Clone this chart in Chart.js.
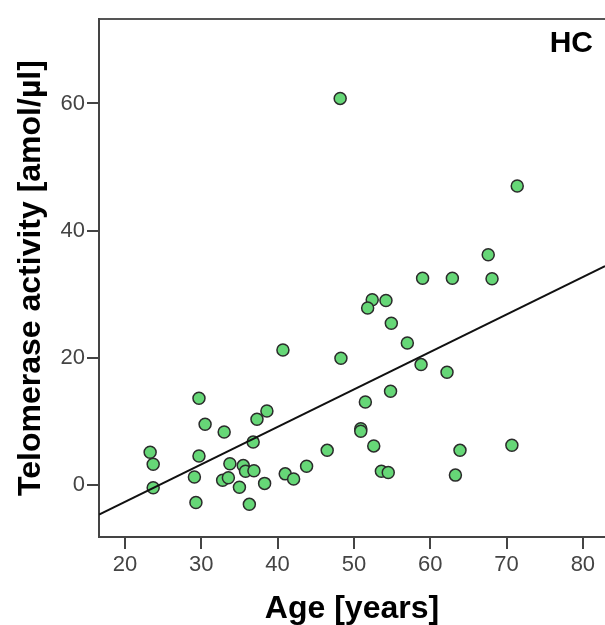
<!DOCTYPE html>
<html>
<head>
<meta charset="utf-8">
<title>Telomerase activity vs age (HC)</title>
<script src="https://cdn.jsdelivr.net/npm/chart.js@4.4.1/dist/chart.umd.min.js"></script>
<style>
  html, body { margin: 0; padding: 0; background: #fff; overflow: hidden; }
  canvas { display: block; }
</style>
</head>
<body>
<canvas id="scatterHC" width="605" height="625"></canvas>
<script>
// healthy controls: age (years) and telomerase activity (amol/µl)
const ages = [
  48.2, 71.4, 67.6, 59.0, 62.9, 68.1, 52.4, 54.2, 51.8, 54.9,
  57.0, 40.7, 48.3, 58.8, 62.2, 54.8, 51.5, 29.7, 30.5, 38.6,
  37.3, 33.0, 36.8, 50.9, 50.9, 52.6, 46.5, 63.9, 70.7, 23.3,
  23.7, 23.7, 29.7, 29.1, 29.3, 33.75, 32.8, 33.55, 35.5, 35.8,
  36.9, 35.0, 36.3, 38.3, 41.0, 42.1, 43.8, 53.6, 54.5, 63.3
];
const activity = [
  60.8, 47.0, 36.2, 32.5, 32.5, 32.4, 29.1, 29.0, 27.8, 25.4,
  22.3, 21.2, 19.9, 18.9, 17.7, 14.7, 13.0, 13.6, 9.5, 11.6,
  10.3, 8.3, 6.7, 8.8, 8.4, 6.1, 5.4, 5.4, 6.2, 5.1,
  3.2, -0.5, 4.5, 1.2, -2.8, 3.3, 0.7, 1.1, 3.0, 2.1,
  2.2, -0.4, -3.1, 0.2, 1.7, 0.9, 2.9, 2.1, 1.9, 1.5
];

// linear fit: intercept, slope
const fitLine = [-14.5, 0.59];

const xRange = [16.6, 82.9];
const yRange = [-8.24, 73.3];
const xTicks = [20, 30, 40, 50, 60, 70, 80];
const yTicks = [0, 20, 40, 60];

const axisColor = "#444";
const tickFont = { family: "'Liberation Sans', Arial, sans-serif", size: 22 };
const titleFont = { family: "'Liberation Sans', Arial, sans-serif", size: 32, weight: "bold", lineHeight: 1 };

const points = ages.map((a, i) => ({ x: a, y: activity[i] }));
const fitPoints = xRange.map(x => ({ x: x, y: fitLine[0] + fitLine[1] * x }));

const groupLabel = {
  id: "groupLabel",
  afterDraw(chart) {
    const { ctx, chartArea } = chart;
    ctx.save();
    ctx.font = "bold 30px 'Liberation Sans', Arial, sans-serif";
    ctx.fillStyle = "#000";
    ctx.textAlign = "right";
    ctx.textBaseline = "alphabetic";
    ctx.fillText("HC", chartArea.right - 12, chartArea.top + 33);
    ctx.restore();
  }
};

function fixedTicks(values) {
  return scale => { scale.ticks = values.map(v => ({ value: v })); };
}

new Chart(document.getElementById("scatterHC").getContext("2d"), {
  type: "scatter",
  data: {
    datasets: [
      {
        type: "line",
        label: "Fit",
        data: fitPoints,
        borderColor: "#111",
        borderWidth: 2,
        pointRadius: 0,
        fill: false,
        order: 0,
      },
      {
        label: "HC",
        data: points,
        backgroundColor: "#66d777",
        borderColor: "#2b2b2b",
        borderWidth: 1.5,
        pointRadius: 6,
        order: 1,
      },
    ],
  },
  options: {
    responsive: false,
    animation: false,
    layout: { padding: 0, autoPadding: false },
    plugins: {
      legend: { display: false },
      tooltip: { enabled: false },
    },
    scales: {
      x: {
        type: "linear",
        position: "bottom",
        min: xRange[0],
        max: xRange[1],
        afterBuildTicks: fixedTicks(xTicks),
        afterFit: scale => { scale.height = 88; scale.paddingLeft = 0; scale.paddingRight = 0; },
        border: { color: axisColor, width: 2 },
        grid: { drawOnChartArea: false, tickLength: 12, tickColor: axisColor, lineWidth: 2 },
        ticks: { font: tickFont, color: "#444", padding: 3, maxRotation: 0 },
        title: { display: true, text: "Age [years]", font: titleFont, color: "#000", padding: { top: 0, bottom: 0 } },
      },
      xTop: {
        type: "linear",
        position: "top",
        min: xRange[0],
        max: xRange[1],
        afterBuildTicks: fixedTicks(xTicks),
        afterFit: scale => { scale.height = 19; scale.paddingLeft = 0; scale.paddingRight = 0; },
        border: { color: "#555", width: 2 },
        grid: { display: false },
        ticks: { display: false },
      },
      y: {
        type: "linear",
        position: "left",
        min: yRange[0],
        max: yRange[1],
        afterBuildTicks: fixedTicks(yTicks),
        afterFit: scale => { scale.width = 99; scale.paddingTop = 0; scale.paddingBottom = 0; },
        border: { color: axisColor, width: 2 },
        grid: { drawOnChartArea: false, tickLength: 12, tickColor: axisColor, lineWidth: 2 },
        ticks: { font: tickFont, color: "#444", padding: 2 },
        title: { display: true, text: "Telomerase activity [amol/µl]", font: titleFont, color: "#000", padding: { top: 15, bottom: 0 } },
      },
    },
  },
  plugins: [groupLabel],
});
</script>
</body>
</html>
